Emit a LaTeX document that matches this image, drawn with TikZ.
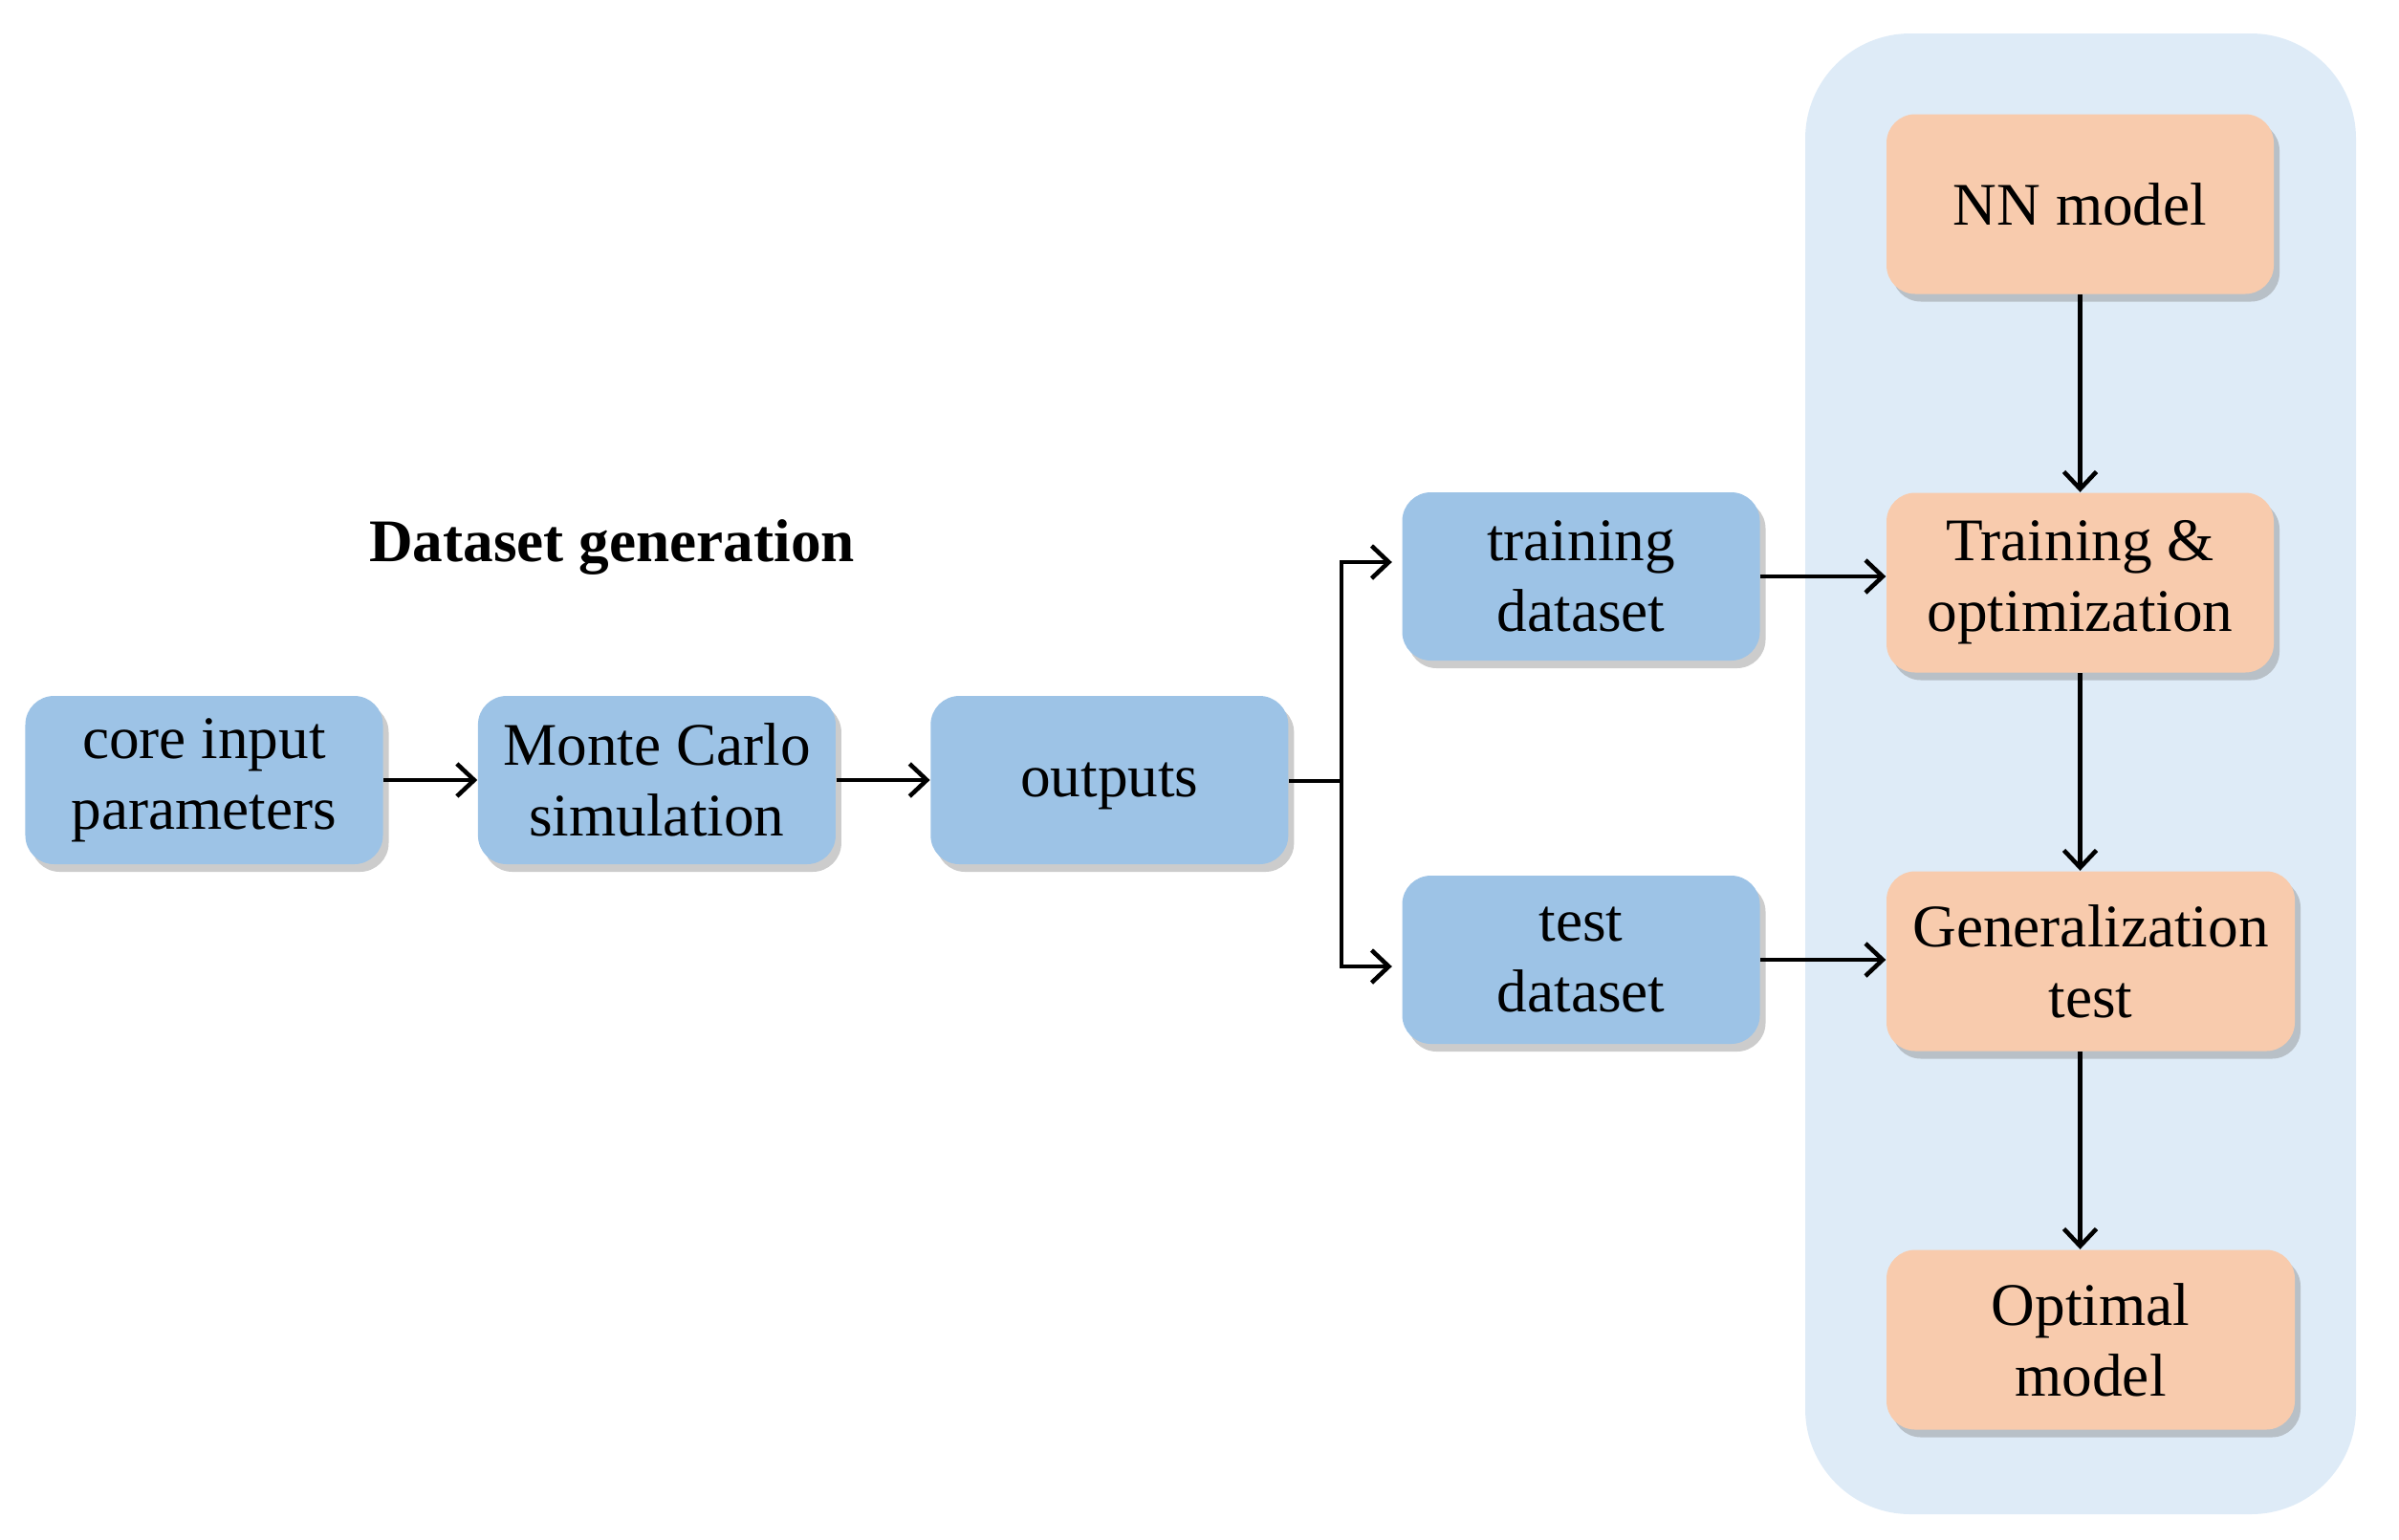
\documentclass[tikz,border=0pt]{standalone}
\usepackage{fontspec}
\setmainfont{Liberation Serif}
\usetikzlibrary{arrows.meta,positioning,shadows}
\definecolor{dsblue}{HTML}{9DC3E6}
\definecolor{nnorange}{HTML}{F8CBAD}
\definecolor{panelblue}{HTML}{DEEBF7}

\begin{document}
\begin{tikzpicture}[
		node distance=0.98cm,
		arrow/.style={-{Straight Barb[length=1.8mm,width=3.4mm]}, line width=1.3pt},
		block/.style={rounded corners=0.3cm, minimum height=1.76cm, minimum width=3.74cm, align=center,
			font=\fontsize{18}{21}\selectfont,
			drop shadow={shadow xshift=0.6mm, shadow yshift=-0.8mm, opacity=0.4}},
		datablock/.style={block, fill=dsblue},
		nnblock/.style={block, fill=nnorange, minimum width=4.05cm, minimum height=1.88cm},
	]
		\useasboundingbox (0,0) rectangle (25.09,-16.10);
		\fill[panelblue, rounded corners=1.1cm] (18.88,-0.35) rectangle (24.64,-15.84);
		
		\node (core) [datablock] at (2.135,-8.16) {core input\\parameters};
		\node (mc) [datablock, right=of core] {Monte Carlo\\simulation};
		\node (out) [datablock, right=of mc, text depth=-0.15cm] {outputs};
		\node (train) [datablock] at (16.535,-6.03) {training\\dataset};
		\node (test) [datablock] at (16.535,-10.04) {test\\dataset};
		\node (title) [font=\bfseries\fontsize{18}{21}\selectfont] at (6.4,-5.73) {Dataset generation};
		
		\node (nn) [nnblock] at (21.755,-2.135) {NN model};
		\node (opt) [nnblock] at (21.755,-6.095) {Training \&\\optimization};
		\node (gen) [nnblock, minimum width=4.27cm] at (21.865,-10.055) {Generalization\\test};
		\node (best) [nnblock, minimum width=4.27cm] at (21.865,-14.015) {Optimal\\model};
		\coordinate (split) at (14.03,-8.17);
		
		\draw[arrow] (core) -- (mc);
		\draw[arrow] (mc) -- (out);
		\draw[line width=1.3pt] (out.east |- split) -- (split);
		\draw[arrow, shorten >=1mm] (split) |- ([yshift=0.15cm]train.west);
		\draw[arrow, shorten >=1mm] (split) |- ([yshift=-0.07cm]test.west);
		\draw[arrow] (train) -- (opt.west |- train);
		\draw[arrow] (test) -- (gen.west |- test);
		\draw[arrow] (nn) -- (opt);
		\draw[arrow] (opt.south) -- (opt.south |- gen.north);
		\draw[arrow] (opt.south |- gen.south) -- (opt.south |- best.north);
	\end{tikzpicture}
\end{document}
